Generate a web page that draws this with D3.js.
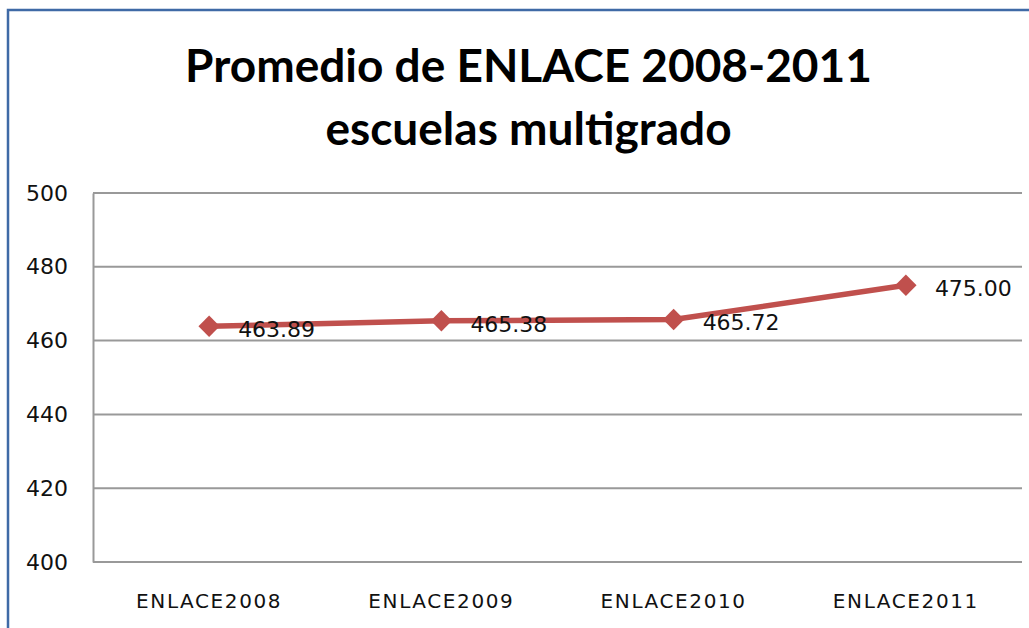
<!DOCTYPE html>
<html lang="es">
<head>
    <meta charset="UTF-8">
    <title>Promedio de ENLACE 2008-2011</title>
    <script src="https://d3js.org/d3.v7.min.js"></script>
    <style>
        body { margin: 0; background: #fff; }
    </style>
</head>
<body>
    <div id="chart"></div>

    <script>
        // Datos
        const categorias = ["ENLACE2008", "ENLACE2009", "ENLACE2010", "ENLACE2011"];
        const promedios = [463.89, 465.38, 465.72, 475.00];
        const ticksY = [400, 420, 440, 460, 480, 500];
        const titulo = ["Promedio de ENLACE 2008-2011", "escuelas multigrado"];

        const W = 1029, H = 628;
        const margin = { top: 193, right: 7, bottom: 66, left: 93 };
        const width = W - margin.left - margin.right;
        const height = H - margin.top - margin.bottom;

        const svg = d3.select("#chart").append("svg")
            .attr("width", W)
            .attr("height", H);

        // Marco azul
        svg.append("path")
            .attr("d", `M8,${H} V10 H${W}`)
            .attr("fill", "none")
            .attr("stroke", "#3F6AA6")
            .attr("stroke-width", 2.5);

        // Titulo
        svg.append("g").selectAll("text")
            .data(titulo)
            .enter().append("text")
            .attr("x", W / 2 + 14)
            .attr("y", (d, i) => 82 + i * 63)
            .attr("text-anchor", "middle")
            .style("font-family", "Lato, 'Liberation Sans', sans-serif")
            .style("font-weight", "bold")
            .style("font-size", "46px")
            .style("fill", "#000")
            .text(d => d);

        const g = svg.append("g")
            .attr("transform", `translate(${margin.left},${margin.top})`);

        // Escalas
        const x = d3.scaleBand().domain(categorias).range([0, width]);
        const y = d3.scaleLinear().domain([400, 500]).range([height, 0]);

        // Rejilla
        g.append("g").selectAll("line")
            .data(ticksY)
            .enter().append("line")
            .attr("x1", 0).attr("x2", width)
            .attr("y1", d => y(d)).attr("y2", d => y(d))
            .attr("stroke", "#999")
            .attr("stroke-width", 2);

        // Eje Y
        const ejeY = g.append("g")
            .call(d3.axisLeft(y).tickValues(ticksY).tickSize(0).tickPadding(25));
        ejeY.select(".domain").attr("stroke", "#999").attr("stroke-width", 2);
        ejeY.selectAll("text")
            .style("font-family", "'DejaVu Sans', Verdana, sans-serif")
            .style("font-size", "22px")
            .style("fill", "#111");

        // Eje X
        const ejeX = g.append("g")
            .attr("transform", `translate(0,${height})`)
            .call(d3.axisBottom(x).tickSize(0).tickPadding(32));
        ejeX.select(".domain").remove();
        ejeX.selectAll("text")
            .style("font-family", "'DejaVu Sans', Verdana, sans-serif")
            .style("font-size", "20px")
            .style("letter-spacing", "1.6px")
            .style("fill", "#111");

        const puntos = categorias.map((c, i) => ({ cat: c, val: promedios[i] }));

        // Linea
        const linea = d3.line()
            .x(d => x(d.cat) + x.bandwidth() / 2)
            .y(d => y(d.val));

        g.append("path")
            .datum(puntos)
            .attr("d", linea)
            .attr("fill", "none")
            .attr("stroke", "#C0504D")
            .attr("stroke-width", 5.5);

        // Marcadores
        g.selectAll(".marca")
            .data(puntos)
            .enter().append("path")
            .attr("class", "marca")
            .attr("d", d3.symbol().type(d3.symbolDiamond2).size(290))
            .attr("transform", d => `translate(${x(d.cat) + x.bandwidth() / 2},${y(d.val)})`)
            .attr("fill", "#C0504D");

        // Etiquetas
        g.selectAll(".etiqueta")
            .data(puntos)
            .enter().append("text")
            .attr("class", "etiqueta")
            .attr("x", d => x(d.cat) + x.bandwidth() / 2 + 29)
            .attr("y", d => y(d.val) + 11)
            .style("font-family", "'DejaVu Sans', Verdana, sans-serif")
            .style("font-size", "22px")
            .style("fill", "#111")
            .text(d => d.val.toFixed(2));
    </script>
</body>
</html>
